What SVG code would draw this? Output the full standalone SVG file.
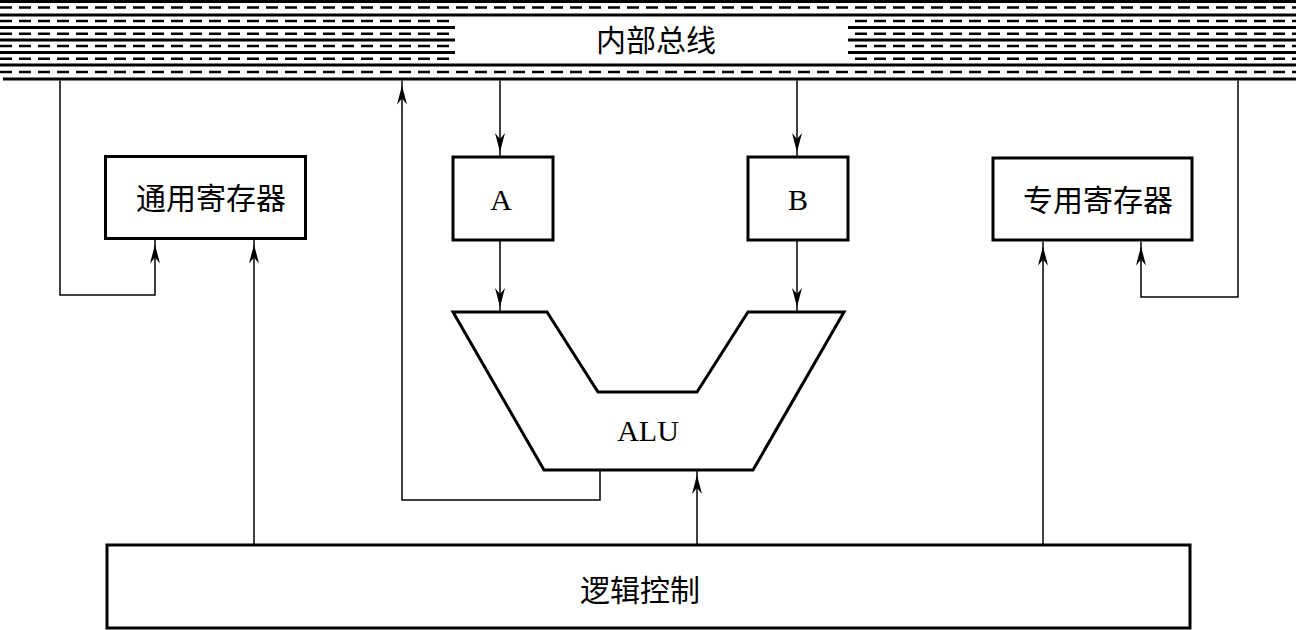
<svg xmlns="http://www.w3.org/2000/svg" width="1296" height="630" viewBox="0 0 1296 630">
<style>
.bg{fill:#ffffff}
.sol{stroke:#000;stroke-width:3;fill:none}
.dsh{stroke:#000;stroke-width:2.5;fill:none;stroke-dasharray:12 7}
.box{fill:#fff;stroke:#000;stroke-width:3}
.conn{fill:none;stroke:#000;stroke-width:1.5}
.cjk{font-family:"Liberation Serif","Noto Sans CJK SC",serif;font-size:30px;fill:#000;text-anchor:middle}
.lat{font-family:"Liberation Serif",serif;fill:#000;text-anchor:middle}
</style>
<defs>
<marker id="arr" markerUnits="userSpaceOnUse" viewBox="-20 -6 30 12" markerWidth="30" markerHeight="12" refX="5" refY="0" orient="auto" overflow="visible">
<path d="M0,0 L-19,-5 L-13,0 L-19,5 Z" fill="#000"/>
</marker>
</defs>
<rect class="bg" x="0" y="0" width="1296" height="630"/>
<g id="bus">
<line class="sol" x1="0" y1="1.5" x2="1296" y2="1.5"/>
<line class="dsh" x1="0" y1="7.5" x2="1296" y2="7.5"/>
<line class="sol" x1="0" y1="15" x2="1296" y2="15"/>
<line class="dsh" x1="0" y1="21" x2="455" y2="21"/>
<line class="sol" x1="0" y1="27.5" x2="455" y2="27.5"/>
<line class="dsh" x1="0" y1="33.7" x2="455" y2="33.7"/>
<line class="sol" x1="0" y1="40" x2="455" y2="40"/>
<line class="dsh" x1="0" y1="46" x2="455" y2="46"/>
<line class="sol" x1="0" y1="52.5" x2="455" y2="52.5"/>
<line class="dsh" x1="0" y1="58.7" x2="455" y2="58.7"/>
<line class="dsh" x1="855" y1="21" x2="1296" y2="21"/>
<line class="sol" x1="848" y1="27.5" x2="1296" y2="27.5"/>
<line class="dsh" x1="855" y1="33.7" x2="1296" y2="33.7"/>
<line class="sol" x1="848" y1="40" x2="1296" y2="40"/>
<line class="dsh" x1="855" y1="46" x2="1296" y2="46"/>
<line class="sol" x1="848" y1="52.5" x2="1296" y2="52.5"/>
<line class="dsh" x1="855" y1="58.7" x2="1296" y2="58.7"/>
<line class="sol" x1="0" y1="65" x2="1296" y2="65"/>
<line class="dsh" x1="0" y1="72" x2="1296" y2="72"/>
<line class="sol" x1="3" y1="79" x2="1296" y2="79"/>
<text class="cjk" x="656" y="51">内部总线</text>
</g>
<g id="connectors">
<path class="conn" d="M500,80.5 V157" marker-end="url(#arr)"/>
<path class="conn" d="M797,80.5 V157" marker-end="url(#arr)"/>
<path class="conn" d="M500,240 V312" marker-end="url(#arr)"/>
<path class="conn" d="M797,240 V312" marker-end="url(#arr)"/>
<path class="conn" d="M600,470 V500 H402 V80.5" marker-end="url(#arr)"/>
<path class="conn" d="M697,545 V470" marker-end="url(#arr)"/>
<path class="conn" d="M60,80.5 V295 H155 V239.5" marker-end="url(#arr)"/>
<path class="conn" d="M254,545 V239.5" marker-end="url(#arr)"/>
<path class="conn" d="M1238,80.5 V297 H1141 V241.5" marker-end="url(#arr)"/>
<path class="conn" d="M1043,545 V241.5" marker-end="url(#arr)"/>
</g>
<g id="gpr">
<rect class="box" x="105.5" y="156.5" width="200" height="82"/>
<text class="cjk" x="211" y="209">通用寄存器</text>
</g>
<g id="spr">
<rect class="box" x="993" y="158" width="199" height="82"/>
<text class="cjk" x="1098" y="211">专用寄存器</text>
</g>
<g id="regA">
<rect class="box" x="453" y="157" width="100" height="83"/>
<text class="lat" x="501" y="210" font-size="30">A</text>
</g>
<g id="regB">
<rect class="box" x="748" y="157" width="100" height="83"/>
<text class="lat" x="798" y="210" font-size="30">B</text>
</g>
<g id="alu">
<polygon class="box" points="453,312 547,312 598,392 697,392 748,312 844,312 753,470 544,470"/>
<text class="lat" x="648" y="441" font-size="30">ALU</text>
</g>
<g id="logic">
<rect class="box" x="107" y="545" width="1083" height="83"/>
<text class="cjk" x="640" y="601">逻辑控制</text>
</g>
</svg>
